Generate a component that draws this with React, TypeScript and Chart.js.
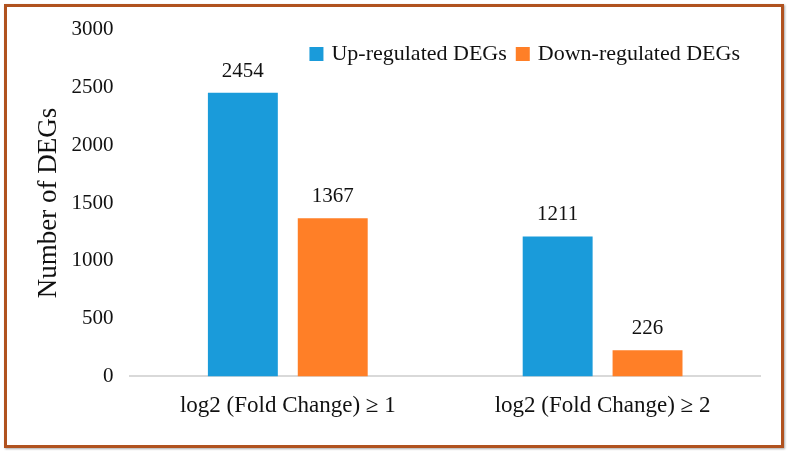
import React, { useEffect, useRef } from "react";
import { Chart, registerables } from "chart.js";

Chart.register(...registerables);

const categories = ["log2 (Fold Change) ≥ 1", "log2 (Fold Change) ≥ 2"];
const upValues = [2454, 1211];
const downValues = [1367, 226];
const seriesNames = ["Up-regulated DEGs", "Down-regulated DEGs"];
const yTicks = [0, 500, 1000, 1500, 2000, 2500, 3000];
const yTitle = "Number of DEGs";

const FONT = "'Liberation Serif', 'Times New Roman', serif";

const valueLabels = {
  id: "valueLabels",
  afterDatasetsDraw(chart: any) {
    const ctx = chart.ctx;
    ctx.save();
    ctx.font = `21px ${FONT}`;
    ctx.fillStyle = "#111";
    ctx.textAlign = "center";
    ctx.textBaseline = "bottom";
    chart.data.datasets.forEach((ds: any, i: number) => {
      const meta = chart.getDatasetMeta(i);
      meta.data.forEach((bar: any, j: number) => {
        ctx.fillText(String(ds.data[j]), bar.x, bar.y - 11);
      });
    });
    ctx.restore();
  },
};

const innerLegend = {
  id: "innerLegend",
  afterDraw(chart: any) {
    const ctx = chart.ctx;
    const area = chart.chartArea;
    const box = 14;
    const gapText = 8;
    const gapItem = 9;
    ctx.save();
    ctx.font = `22px ${FONT}`;
    const items = chart.data.datasets.map((ds: any) => ({
      label: ds.label,
      color: ds.backgroundColor,
      w: ctx.measureText(ds.label).width,
    }));
    const total =
      items.reduce((s: number, it: any) => s + box + gapText + it.w, 0) + gapItem * (items.length - 1);
    let x = area.right - 20 - total;
    const cy = 54;
    ctx.textBaseline = "middle";
    ctx.textAlign = "left";
    items.forEach((it: any) => {
      ctx.fillStyle = it.color;
      ctx.fillRect(x, cy - box / 2, box, box);
      ctx.fillStyle = "#111";
      ctx.fillText(it.label, x + box + gapText, cy);
      x += box + gapText + it.w + gapItem;
    });
    ctx.restore();
  },
};

export default function App() {
  const ref = useRef<HTMLCanvasElement>(null);
  useEffect(() => {
    if (!ref.current) return;
    const chart = new Chart(ref.current, {
      type: "bar",
      data: {
        labels: categories,
        datasets: [
          { label: seriesNames[0], data: upValues, backgroundColor: "#1A9BDA" },
          { label: seriesNames[1], data: downValues, backgroundColor: "#FF7F27" },
        ],
      },
      options: {
        animation: false,
        responsive: false,
        maintainAspectRatio: false,
        layout: { padding: { left: 27, right: 28, top: 29, bottom: 16 } },
        datasets: {
          bar: { categoryPercentage: 0.571, barPercentage: 0.778 },
        } as any,
        plugins: {
          tooltip: { enabled: false },
          legend: { display: false },
        },
        scales: {
          x: {
            grid: { display: false, drawTicks: false },
            border: { color: "#D9D9D9", width: 2 },
            ticks: { color: "#111", padding: 16, font: { family: FONT, size: 23 } },
          },
          y: {
            min: 0,
            max: 3000,
            afterBuildTicks: (axis: any) => {
              axis.ticks = yTicks.map((v) => ({ value: v }));
            },
            grid: { display: false, drawTicks: false },
            border: { display: false },
            ticks: {
              color: "#111",
              padding: 17,
              font: { family: FONT, size: 21 },
              callback: (v: any) => String(v),
            },
            title: {
              display: true,
              text: yTitle,
              color: "#111",
              padding: { top: 6, bottom: -11 },
              font: { family: FONT, size: 27 },
            },
          },
        },
      },
      plugins: [valueLabels, innerLegend],
    });
    return () => chart.destroy();
  }, []);

  return (
    <div style={{ position: "fixed", left: 0, top: 0, width: 788, height: 452, background: "#fff" }}>
      <div
        style={{
          position: "absolute",
          left: 4,
          top: 4,
          width: 774,
          height: 438,
          border: "3px solid #B0521F",
          boxShadow: "1px 1px 2px rgba(0,0,0,0.35)",
        }}
      />
      <canvas ref={ref} width={788} height={452} style={{ position: "absolute", left: 0, top: 0 }} />
    </div>
  );
}
